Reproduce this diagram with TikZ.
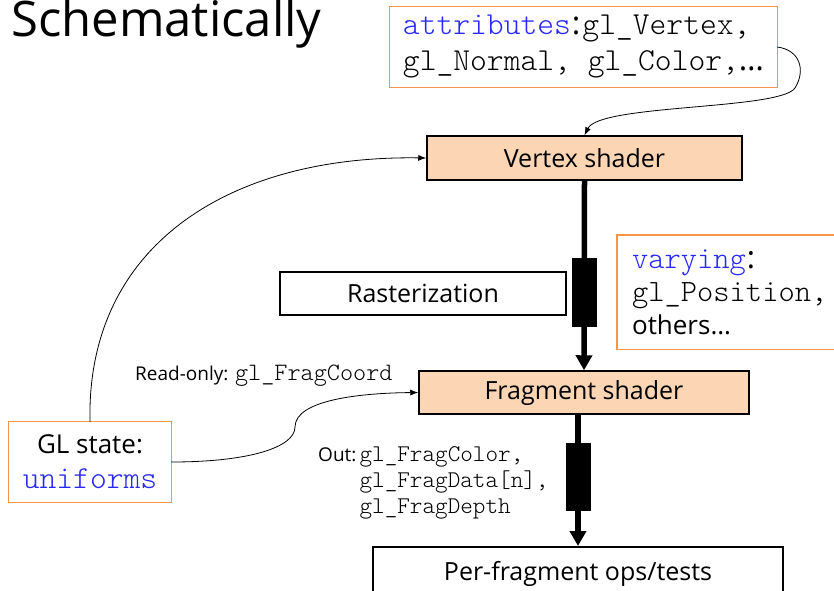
\documentclass[tikz,border=0pt]{standalone}
\usepackage{fontspec}
\setmainfont{Open Sans}
\setmonofont{lmmonolt10-regular}[Extension=.otf]
\usetikzlibrary{arrows.meta}
\definecolor{boxorange}{RGB}{247,150,70}
\definecolor{peach}{RGB}{252,213,180}
\definecolor{kwblue}{RGB}{40,40,255}
\newcommand{\kw}[1]{{\color{kwblue}\ttfamily #1}}
\newcommand{\msz}{\fontsize{24}{26}\selectfont}
\newcommand{\ssz}{\fontsize{19}{26}\selectfont}
\tikzset{
  shaderbox/.style={draw=black, line width=1.5pt, fill=peach, font=\fontsize{25}{30}\selectfont},
  plainbox/.style={draw=black, line width=1.5pt, fill=white, font=\fontsize{25}{30}\selectfont},
  notebox/.style={fill=white, align=left, text=black},
  noteframe/.style={draw=boxorange, line width=1.1pt},
  thinarrow/.style={line width=0.8pt, -{Latex[length=8pt,width=6pt]}},
  thickarrow/.style={line width=5.5pt, -{Triangle[length=15pt,width=16pt]}},
  plug/.style={fill=black, draw=none, minimum width=25pt, inner sep=0pt},
}
\begin{document}
\begin{tikzpicture}[x=1pt,y=-1pt]
\useasboundingbox (0,0) rectangle (834,590);

% title
\node[anchor=west, inner sep=0pt, font=\fontsize{49}{56}\selectfont] (title) at (11,24) {Schematically};

% pipeline stages
\node[shaderbox, minimum width=315pt, minimum height=44pt] (vs) at (584.5,158) {Vertex shader};
\node[plainbox, minimum width=286pt, minimum height=43pt] (rast) at (423,293.5) {Rasterization};
\node[shaderbox, minimum width=330pt, minimum height=43pt] (fs) at (584,392.5) {Fragment shader};
\node[plainbox, anchor=north, minimum width=410pt, minimum height=60pt, text depth=0pt] (pf) at (578,546) {\raisebox{12pt}{Per-fragment ops/tests}};

% inputs and state (frames drawn separately below)
\node[notebox, minimum width=387pt, minimum height=80pt, inner xsep=9pt, font=\fontsize{32}{36}\selectfont] (attr) at (583.5,47)
  {\raisebox{-4pt}{\kw{attributes}\kern1pt:\kern2pt\texttt{gl\_Vertex,}}\\
   \raisebox{-4pt}{\texttt{gl\_Normal, gl\_Color,}…}};
\node[notebox, anchor=north west, minimum width=225pt, minimum height=114pt, inner xsep=9pt, font=\fontsize{31}{33}\selectfont] (vary) at (617,235)
  {\kw{varying}\kern1pt:\\
   \texttt{gl\_Position,}\\
   {\fontsize{26}{33}\selectfont others…}};
\node[notebox, align=center, minimum width=162pt, minimum height=80pt, font=\fontsize{26}{35}\selectfont] (gl) at (90,462)
  {GL state:\\
   {\fontsize{32}{35}\selectfont\kw{uniforms}}};
\foreach \n in {attr,vary,gl}
  \draw[noteframe] (\n.north west) rectangle (\n.south east);

% fragment shader built-ins
\node[anchor=west, inner sep=0pt] (ro) at (135,376)
  {\ssz Read-only: {\fontsize{25}{26}\selectfont\texttt{gl\_FragCoord}}};
\node[anchor=north west, inner sep=0pt, align=left, font=\msz] (out) at (318,446)
  {{\ssz Out:\,}\texttt{gl\_FragColor,}\\
   {\ssz\phantom{Out:\,}}\texttt{gl\_FragData[n],}\\
   {\ssz\phantom{Out:\,}}\texttt{gl\_FragDepth}};

% data flow
\draw[thickarrow] (vs.south) -- (fs.north);
\node[plug, minimum height=69pt] (bar1) at (584.5,292.5) {};
\draw[thickarrow] (fs.south -| pf.north) -- (pf.north);
\node[plug, minimum height=68pt] (bar2) at (578,477) {};

% connectors
\draw[thinarrow] (attr.east) .. controls (800,50) and (806,70) .. (795,88)
  .. controls (780,110) and (600,104) .. (vs.north);
\draw[thinarrow] (gl.north) .. controls (86,245) and (230,155) .. (vs.west);
\draw[thinarrow] (gl.east) .. controls (250,462) and (295,447) .. (295,427)
  .. controls (295,400) and (360,393) .. (fs.west);
\end{tikzpicture}
\end{document}
